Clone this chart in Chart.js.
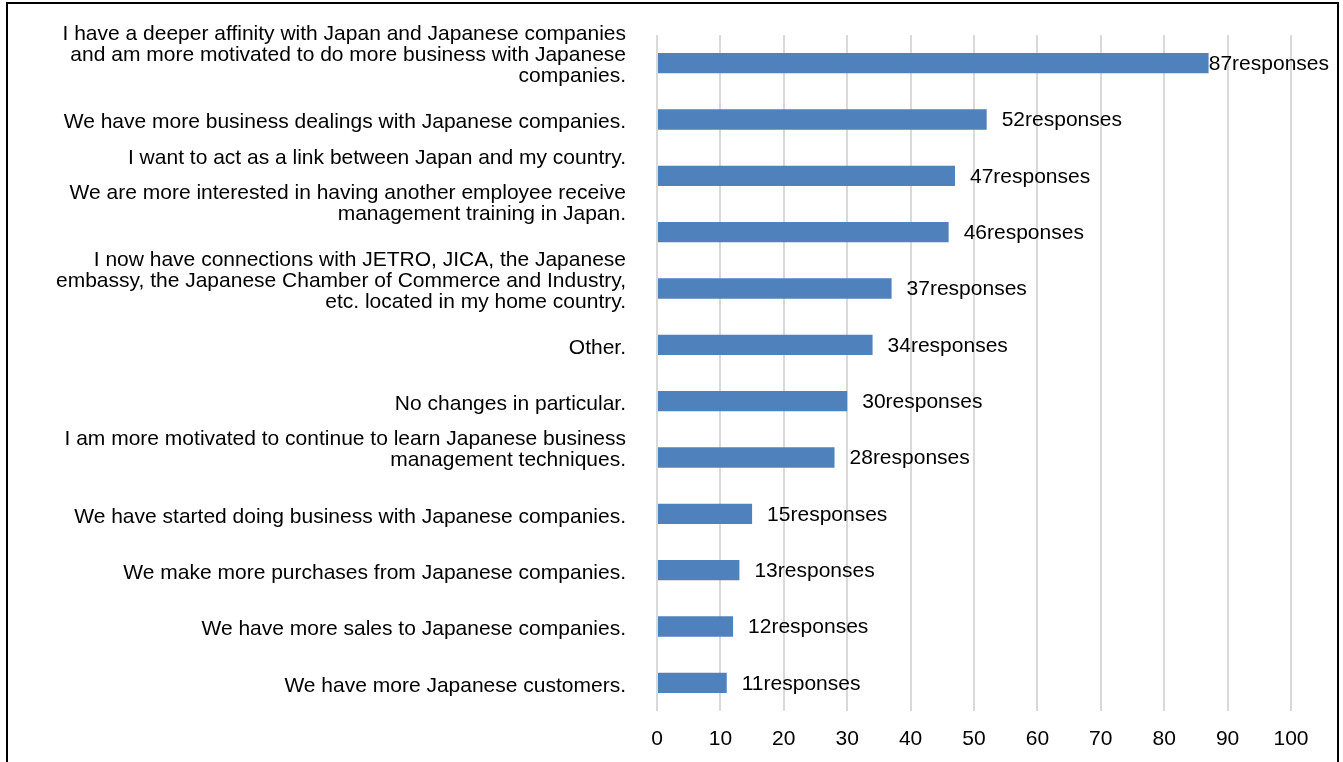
<!DOCTYPE html>
<html>
<head>
<meta charset="utf-8">
<script src="https://cdn.jsdelivr.net/npm/chart.js@4"></script>
<style>
    body { margin: 0; background: #fff; overflow: hidden; }
    #wrap { position: relative; width: 1343px; height: 762px; }
    #frame {
        position: absolute; left: 6px; top: 2px; width: 1329px; height: 800px;
        border: 2px solid #000; pointer-events: none;
    }
</style>
</head>
<body>
<div id="wrap">
    <canvas id="chart" width="1343" height="762"></canvas>
    <div id="frame"></div>
</div>
<script>
// Survey answers (trailing '' lines keep the wrapped text sitting like the original layout)
const answers = [
    ['I have a deeper affinity with Japan and Japanese companies', 'and am more motivated to do more business with Japanese', 'companies.', ''],
    ['We have more business dealings with Japanese companies.'],
    ['I want to act as a link between Japan and my country.', '', ''],
    ['We are more interested in having another employee receive', 'management training in Japan.', '', '', ''],
    ['I now have connections with JETRO, JICA, the Japanese', 'embassy, the Japanese Chamber of Commerce and Industry,', 'etc. located in my home country.', ''],
    ['Other.'],
    ['No changes in particular.'],
    ['I am more motivated to continue to learn Japanese business', 'management techniques.', ''],
    ['We have started doing business with Japanese companies.'],
    ['We make more purchases from Japanese companies.'],
    ['We have more sales to Japanese companies.'],
    ['We have more Japanese customers.']
];
const responses = [87, 52, 47, 46, 37, 34, 30, 28, 15, 13, 12, 11];
const xTicks = [0, 10, 20, 30, 40, 50, 60, 70, 80, 90, 100];

const FONT = '"Liberation Sans", Arial, sans-serif';

// Value labels to the right of each bar, kept inside the canvas
const valueLabels = {
    id: 'valueLabels',
    afterDatasetsDraw(chart) {
        const ctx = chart.ctx;
        const meta = chart.getDatasetMeta(0);
        ctx.save();
        ctx.font = '21px ' + FONT;
        ctx.fillStyle = '#000';
        ctx.textBaseline = 'middle';
        ctx.textAlign = 'left';
        meta.data.forEach((bar, i) => {
            const text = responses[i] + 'responses';
            const w = ctx.measureText(text).width;
            let x = bar.x + 15;
            const maxX = chart.width - 14 - w;
            if (x > maxX) x = Math.max(bar.x, maxX);
            ctx.fillText(text, x, bar.y + 1);
        });
        ctx.restore();
    }
};

new Chart(document.getElementById('chart'), {
    type: 'bar',
    data: {
        labels: answers,
        datasets: [{
            data: responses,
            backgroundColor: '#4F81BD',
            barPercentage: 0.36,
            categoryPercentage: 1
        }]
    },
    options: {
        responsive: false,
        animation: false,
        indexAxis: 'y',
        layout: { padding: { top: 35, right: 52, left: 0, bottom: 0 } },
        plugins: {
            legend: { display: false },
            tooltip: { enabled: false }
        },
        scales: {
            x: {
                min: 0,
                max: 100,
                afterBuildTicks: (scale) => {
                    scale.ticks = xTicks.map(v => ({ value: v }));
                },
                afterFit: (scale) => {
                    scale.height = 51;
                    scale.paddingLeft = 0;
                    scale.paddingRight = 0;
                },
                grid: { color: '#d9d9d9', lineWidth: 2, drawTicks: false },
                border: { display: false },
                ticks: {
                    color: '#000',
                    padding: 16,
                    maxRotation: 0,
                    font: { family: FONT, size: 21 }
                }
            },
            y: {
                afterFit: (scale) => {
                    scale.width = 657;
                    scale.paddingTop = 0;
                    scale.paddingBottom = 0;
                },
                grid: { display: false, drawTicks: false },
                border: { display: false },
                ticks: {
                    color: '#000',
                    padding: 31,
                    labelOffset: 3,
                    autoSkip: false,
                    font: { family: FONT, size: 21, lineHeight: 1 }
                }
            }
        }
    },
    plugins: [valueLabels]
});
</script>
</body>
</html>
